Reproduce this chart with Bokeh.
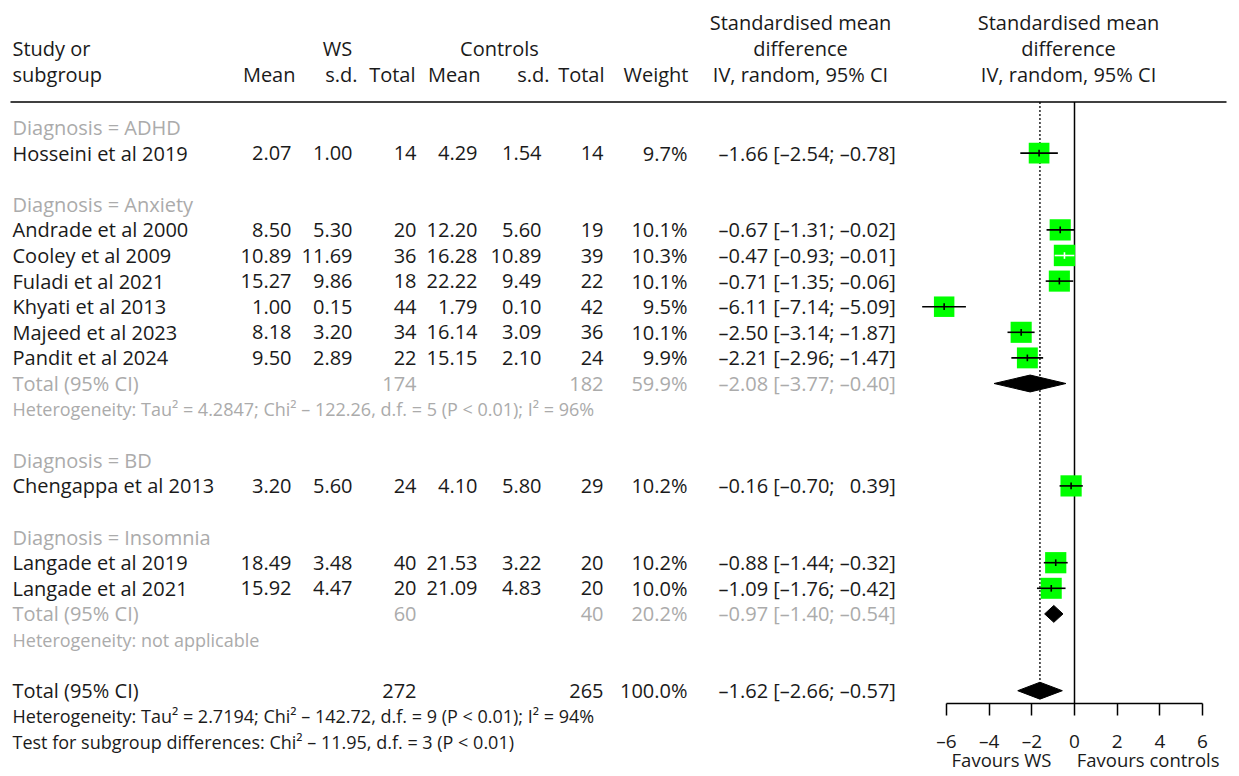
import math
from bokeh.plotting import figure
from bokeh.models import (ColumnDataSource, Range1d, FixedTicker, LinearAxis,
                          CustomJSTickFormatter)
from bokeh.core.properties import value, field
from bokeh.embed import file_html
from bokeh.resources import INLINE

# ---------------- data ----------------
groups = ["ADHD", "Anxiety", "BD", "Insomnia"]
study_group = ["ADHD", "Anxiety", "Anxiety", "Anxiety", "Anxiety", "Anxiety", "Anxiety",
               "BD", "Insomnia", "Insomnia"]
studies = ["Hosseini et al 2019", "Andrade et al 2000", "Cooley et al 2009", "Fuladi et al 2021",
           "Khyati et al 2013", "Majeed et al 2023", "Pandit et al 2024", "Chengappa et al 2013",
           "Langade et al 2019", "Langade et al 2021"]
mean_ws = [2.07, 8.50, 10.89, 15.27, 1.00, 8.18, 9.50, 3.20, 18.49, 15.92]
sd_ws = [1.00, 5.30, 11.69, 9.86, 0.15, 3.20, 2.89, 5.60, 3.48, 4.47]
n_ws = [14, 20, 36, 18, 44, 34, 22, 24, 40, 20]
mean_c = [4.29, 12.20, 16.28, 22.22, 1.79, 16.14, 15.15, 4.10, 21.53, 21.09]
sd_c = [1.54, 5.60, 10.89, 9.49, 0.10, 3.09, 2.10, 5.80, 3.22, 4.83]
n_c = [14, 19, 39, 22, 42, 36, 24, 29, 20, 20]
weight = [9.7, 10.1, 10.3, 10.1, 9.5, 10.1, 9.9, 10.2, 10.2, 10.0]
smd = [-1.66, -0.67, -0.47, -0.71, -6.11, -2.50, -2.21, -0.16, -0.88, -1.09]
ci_lo = [-2.54, -1.31, -0.93, -1.35, -7.14, -3.14, -2.96, -0.70, -1.44, -1.76]
ci_hi = [-0.78, -0.02, -0.01, -0.06, -5.09, -1.87, -1.47, 0.39, -0.32, -0.42]

sub_names = ["Anxiety", "Insomnia"]
sub_n_ws = [174, 60]
sub_n_c = [182, 40]
sub_weight = [59.9, 20.2]
sub_smd = [-2.08, -0.97]
sub_lo = [-3.77, -1.40]
sub_hi = [-0.40, -0.54]
sub_het = ["Heterogeneity: Tau² = 4.2847; Chi² – 122.26, d.f. = 5 (P < 0.01); I² = 96%",
           "Heterogeneity: not applicable"]

tot_n_ws, tot_n_c, tot_weight = 272, 265, 100.0
tot_smd, tot_lo, tot_hi = -1.62, -2.66, -0.57
tot_het = "Heterogeneity: Tau² = 2.7194; Chi² – 142.72, d.f. = 9 (P < 0.01); I² = 94%"
test_sub = "Test for subgroup differences: Chi² – 11.95, d.f. = 3 (P < 0.01)"

x_ticks = [-6, -4, -2, 0, 2, 4, 6]
favours = ["Favours WS", "Favours controls"]

# ---------------- styling ----------------
FONT = value("Open Sans")
BLACK = "#1a1a1a"
GREY = "#ababab"
GREEN = "#00ff00"
FS = "20px"
FS_SMALL = "18px"
PX_PER_ROW = 25.6
W, H = 1236, 774
ROW0_Y = 127          # canvas y of the first row
AXIS_Y = 703          # canvas y of the forest axis

COL = dict(label=12, mean_ws=291, sd_ws=352, n_ws=416, mean_c=477, sd_c=541, n_c=603, w=687, ci=718)


def fmt(v):
    s = f"{abs(v):.2f}"
    return ("–" + s) if v < 0 else s


def ci_text(e, l, h):
    hs = fmt(h) if h < 0 else "\u2002" + fmt(h)
    return f"{fmt(e)} [{fmt(l)}; {hs}]"


T = dict(x=[], y=[], text=[], align=[], color=[], size=[])


def put(x, r, s, align="left", color=BLACK, size=FS):
    T["x"].append(x)
    T["y"].append(-r)
    T["text"].append(s)
    T["align"].append(align)
    T["color"].append(color)
    T["size"].append(size)


# headers
put(COL["label"], -3.09, "Study or")
put(COL["label"], -2.07, "subgroup")
put(337, -3.09, "WS", "center")
put(499, -3.09, "Controls", "center")
put(295, -2.07, "Mean", "right")
put(357, -2.07, "s.d.", "right")
put(415, -2.07, "Total", "right")
put(480, -2.07, "Mean", "right")
put(549, -2.07, "s.d.", "right")
put(604, -2.07, "Total", "right")
put(688, -2.07, "Weight", "right")
put(800, -4.1, "Standardised mean", "center")
put(800, -3.09, "difference", "center")
put(800, -2.07, "IV, random, 95% CI", "center")

# rows
st_rows = [0] * len(studies)
sub_rows = {}
r = 0
for g in groups:
    put(COL["label"], r, f"Diagnosis = {g}", color=GREY)
    r += 1
    for i, sg in enumerate(study_group):
        if sg != g:
            continue
        st_rows[i] = r
        put(COL["label"], r, studies[i])
        put(COL["mean_ws"], r, f"{mean_ws[i]:.2f}", "right")
        put(COL["sd_ws"], r, f"{sd_ws[i]:.2f}", "right")
        put(COL["n_ws"], r, f"{n_ws[i]}", "right")
        put(COL["mean_c"], r, f"{mean_c[i]:.2f}", "right")
        put(COL["sd_c"], r, f"{sd_c[i]:.2f}", "right")
        put(COL["n_c"], r, f"{n_c[i]}", "right")
        put(COL["w"], r, f"{weight[i]:.1f}%", "right")
        put(COL["ci"], r, ci_text(smd[i], ci_lo[i], ci_hi[i]))
        r += 1
    if g in sub_names:
        k = sub_names.index(g)
        sub_rows[g] = r
        put(COL["label"], r, "Total (95% CI)", color=GREY)
        put(COL["n_ws"], r, f"{sub_n_ws[k]}", "right", GREY)
        put(COL["n_c"], r, f"{sub_n_c[k]}", "right", GREY)
        put(COL["w"], r, f"{sub_weight[k]:.1f}%", "right", GREY)
        put(COL["ci"], r, ci_text(sub_smd[k], sub_lo[k], sub_hi[k]), color=GREY)
        put(COL["label"], r + 1, sub_het[k], color=GREY, size=FS_SMALL)
        r += 2
    r += 1

tot_row = r
put(COL["label"], tot_row, "Total (95% CI)")
put(COL["n_ws"], tot_row, f"{tot_n_ws}", "right")
put(COL["n_c"], tot_row, f"{tot_n_c}", "right")
put(COL["w"], tot_row, f"{tot_weight:.1f}%", "right")
put(COL["ci"], tot_row, ci_text(tot_smd, tot_lo, tot_hi))
put(COL["label"], tot_row + 1, tot_het, size=FS_SMALL)
put(COL["label"], tot_row + 2, test_sub, size=FS_SMALL)

# ---------------- figure geometry ----------------
top_row = -ROW0_Y / PX_PER_ROW
bot_row = (H - ROW0_Y) / PX_PER_ROW
axis_row = (AXIS_Y - ROW0_Y) / PX_PER_ROW
x0 = 1074
scale = 128 / 6.0

p = figure(width=W, height=H, output_backend="svg", toolbar_location=None,
           x_range=Range1d(0, W), y_range=Range1d(-bot_row, -top_row),
           x_axis_location=None, y_axis_location=None,
           min_border=0, outline_line_color=None)
p.grid.visible = False
p.extra_x_ranges = {"smd": Range1d(-x0 / scale, (W - x0) / scale)}

# table text
src = ColumnDataSource(T)
p.text(x="x", y="y", text="text", source=src, text_align=field("align"),
       text_color=field("color"), text_font_size=field("size"),
       text_baseline="middle", text_font=FONT)

# header rule
p.segment(x0=[10], y0=[1], x1=[1226], y1=[1], line_color="black", line_width=1.5)

# forest reference lines
p.segment(x0=[0], y0=[1], x1=[0], y1=[-axis_row], line_color="black", line_width=1.5,
          x_range_name="smd")
p.segment(x0=[tot_smd], y0=[1], x1=[tot_smd], y1=[-(tot_row - 0.33)], line_color="black",
          line_width=1.3, line_dash="2 2", x_range_name="smd")

# forest header
p.text(x=[-0.28] * 3, y=[4.1, 3.09, 2.07],
       text=["Standardised mean", "difference", "IV, random, 95% CI"],
       text_align="center", text_baseline="middle",
       text_font=FONT, text_font_size=FS, text_color=BLACK, x_range_name="smd")

# study squares and CIs
sq = [21 * math.sqrt(w / 10.0) for w in weight]
lcol = ["white" if (h - l) * scale < s else "black" for l, h, s in zip(ci_lo, ci_hi, sq)]
ys = [-rr for rr in st_rows]
fsrc = ColumnDataSource(dict(x=smd, y=ys, lo=ci_lo, hi=ci_hi, size=sq, lc=lcol,
                             yt=[y + 0.13 for y in ys], yb=[y - 0.13 for y in ys]))
p.scatter(x="x", y="y", size="size", marker="square", fill_color=GREEN, line_color=None,
          source=fsrc, x_range_name="smd")
p.segment(x0="lo", y0="y", x1="hi", y1="y", line_color="lc", line_width=1.6, source=fsrc,
          x_range_name="smd")
p.segment(x0="x", y0="yb", x1="x", y1="yt", line_color="lc", line_width=1.6, source=fsrc,
          x_range_name="smd")

# diamonds
dh = 0.33
d_e = sub_smd + [tot_smd]
d_l = sub_lo + [tot_lo]
d_h = sub_hi + [tot_hi]
d_y = [-sub_rows[g] for g in sub_names] + [-tot_row]
p.patches(xs=[[l, e, h, e] for e, l, h in zip(d_e, d_l, d_h)],
          ys=[[y, y + dh, y, y - dh] for y in d_y],
          fill_color="black", line_color="black", x_range_name="smd")

# axis drawn inside the frame at the axis row
ax = LinearAxis(x_range_name="smd", fixed_location=-axis_row)
ax.ticker = FixedTicker(ticks=x_ticks)
ax.bounds = (x_ticks[0], x_ticks[-1])
ax.formatter = CustomJSTickFormatter(code="return tick < 0 ? '\u2013' + Math.abs(tick) : String(tick);")
ax.major_tick_in = 0
ax.major_tick_out = 12
ax.minor_tick_in = 0
ax.minor_tick_out = 0
ax.axis_line_width = 1.5
ax.major_tick_line_width = 1.5
ax.axis_line_color = "black"
ax.major_tick_line_color = "black"
ax.major_label_text_font = "Open Sans"
ax.major_label_text_font_size = "19px"
ax.major_label_text_color = BLACK
ax.major_label_standoff = 12
p.add_layout(ax, "below")

p.text(x=[-3.42, 3.45], y=[-(tot_row + 2.7)] * 2, text=favours,
       text_align="center", text_baseline="middle", text_font=FONT,
       text_font_size="18.5px", text_color=BLACK, x_range_name="smd")

open("out.html", "w").write(file_html(p, INLINE))
